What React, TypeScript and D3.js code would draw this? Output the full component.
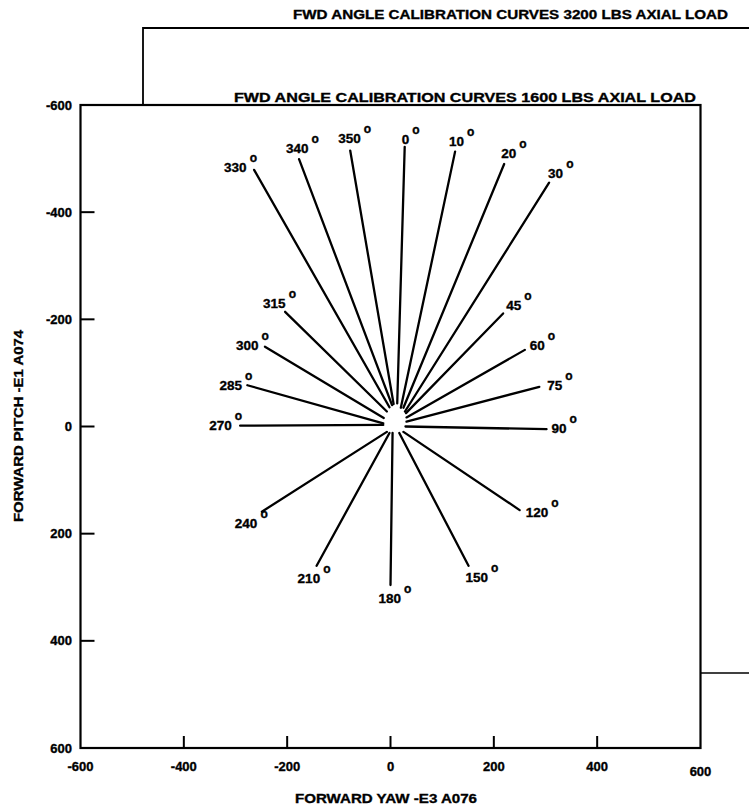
import React from "react";
import * as d3 from "d3";

// ---- data ----
const angleLabels = ["0", "10", "20", "30", "45", "60", "75", "90", "120", "150", "180", "210", "240", "270", "285", "300", "315", "330", "340", "350"];
const outerYaw = [27.5, 125, 220, 307, 218, 260, 288, 302, 250, 151, 0, -143, -249, -291, -277, -243, -204, -264, -177, -78];
const outerPitch = [-522, -513, -490, -455, -211, -143, -74, 5, 156, 260, 296, 260, 159, -1.5, -77, -149, -214, -479, -499, -515];
const innerYaw = [13, 20, 25, 28, 30, 31, 31, 29, 25, 17, 4, -2, -7, -14, -14, -13, -7, -2, 3, 6];
const innerPitch = [-43, -35, -35, -28, -25, -17, -9, 0, 10, 12, 12, 12, 10, -3, -6, -16, -28, -36, -40, -42];

const yawTicks = [-600, -400, -200, 0, 200, 400, 600];
const pitchTicks = [-600, -400, -200, 0, 200, 400, 600];

const frontTitle = "FWD ANGLE CALIBRATION CURVES 1600 LBS AXIAL LOAD";
const backTitle = "FWD ANGLE CALIBRATION CURVES 3200 LBS AXIAL LOAD";
const xTitle = "FORWARD YAW -E3 A076";
const yTitle = "FORWARD PITCH -E1 A074";

// ---- layout (label offsets in px from outer end) ----
const labelDx = [-3, -6, -3, -1, 3, 5, 8, 5, 6, -3, -12, -19, -27, -31, -28, -29, -22, -30, -13, -12];
const labelDy = [-3, -6, -6, -5, -3, 0, 3, 4, 7, 16, 18, 17, 16, 4, 5, 3, -4, 2, -6, -8];

const W = 749;
const H = 808;
const FONT = "'Liberation Sans', Arial, Helvetica, sans-serif";

export default function App() {
  const x = d3.scaleLinear().domain([-600, 600]).range([80.5, 700.5]);
  const y = d3.scaleLinear().domain([-600, 600]).range([105, 748]);

  const [x0, x1] = x.range();
  const [y0, y1] = y.range();

  const rays = angleLabels.map((a, i) => ({
    a,
    x1: x(innerYaw[i]),
    y1: y(innerPitch[i]),
    x2: x(outerYaw[i]),
    y2: y(outerPitch[i]),
    lx: x(outerYaw[i]) + labelDx[i],
    ly: y(outerPitch[i]) + labelDy[i],
  }));

  const textStyle = { stroke: "#000", strokeWidth: 0.35 } as React.CSSProperties;

  return (
    <svg
      width={W}
      height={H}
      viewBox={`0 0 ${W} ${H}`}
      style={{ position: "absolute", left: 0, top: 0, background: "#fff" }}
      fontFamily={FONT}
      fontWeight="bold"
    >
      <rect x={0} y={0} width={W} height={H} fill="#fff" />

      {/* back frame (3200 lbs sheet) */}
      <path d={`M143,106 V28 H${W}`} fill="none" stroke="#000" strokeWidth={1.8} />
      <path d={`M${x1},673 H${W}`} fill="none" stroke="#000" strokeWidth={1.5} />
      <text x={293} y={19} fontSize={13} textLength={435} lengthAdjust="spacingAndGlyphs" fill="#000" style={textStyle}>
        {backTitle}
      </text>

      {/* front frame */}
      <text x={234} y={102} fontSize={13} textLength={462} lengthAdjust="spacingAndGlyphs" fill="#000" style={textStyle}>
        {frontTitle}
      </text>
      <rect x={x0} y={y0} width={x1 - x0} height={y1 - y0} fill="#fff" stroke="#000" strokeWidth={2.2} />

      {/* x ticks */}
      {yawTicks.map((t) => (
        <g key={"xt" + t}>
          {t > -600 && t < 600 && (
            <line x1={x(t)} x2={x(t)} y1={y1} y2={y1 - 12} stroke="#000" strokeWidth={2} />
          )}
          <text x={x(t)} y={t === 600 ? 776 : 771} fontSize={13} textAnchor="middle" fill="#000" style={textStyle}>
            {String(t)}
          </text>
        </g>
      ))}

      {/* y ticks */}
      {pitchTicks.map((t) => (
        <g key={"yt" + t}>
          {t > -600 && t < 600 && (
            <line x1={x0} x2={x0 + 14} y1={y(t)} y2={y(t)} stroke="#000" strokeWidth={2} />
          )}
          <text x={72} y={y(t) + 4.5} fontSize={13} textAnchor="end" fill="#000" style={textStyle}>
            {String(t)}
          </text>
        </g>
      ))}

      {/* axis titles */}
      <text x={295} y={803} fontSize={13} textLength={182} lengthAdjust="spacingAndGlyphs" fill="#000" style={textStyle}>
        {xTitle}
      </text>
      <text
        transform={`translate(23,${426}) rotate(-90)`}
        x={0}
        y={0}
        fontSize={13}
        textAnchor="middle"
        textLength={192}
        lengthAdjust="spacingAndGlyphs"
        fill="#000"
        style={textStyle}
      >
        {yTitle}
      </text>

      {/* calibration rays */}
      {rays.map((r) => (
        <g key={r.a}>
          <line x1={r.x1} y1={r.y1} x2={r.x2} y2={r.y2} stroke="#000" strokeWidth={2.3} strokeLinecap="round" />
          <text x={r.lx} y={r.ly} fontSize={13.5} fill="#000" style={textStyle}>
            {r.a}
            <tspan dx={3} dy={-10} fontSize={12}>
              o
            </tspan>
          </text>
        </g>
      ))}
    </svg>
  );
}
